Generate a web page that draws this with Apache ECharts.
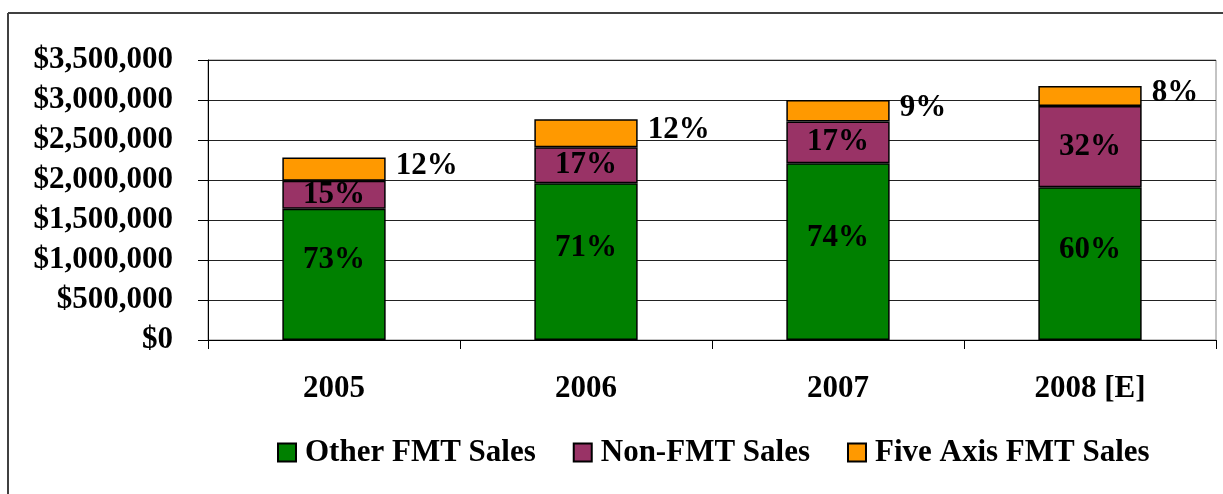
<!DOCTYPE html>
<html>
<head>
<meta charset="utf-8">
<script src="https://cdn.jsdelivr.net/npm/echarts@6/dist/echarts.min.js"></script>
<style>
  html, body { margin: 0; padding: 0; background: #fff; }
  #main { width: 1223px; height: 494px; }
</style>
</head>
<body>
<div id="main"></div>
<script>
// data
var years = ['2005', '2006', '2007', '2008 [E]'];
var otherFmt = [1640000, 1960000, 2210000, 1910000];
var nonFmt = [350000, 450000, 520000, 1015000];
var fiveAxis = [290000, 350000, 270000, 250000];
var otherPct = ['73%', '71%', '74%', '60%'];
var nonPct = ['15%', '17%', '17%', '32%'];
var fivePct = ['12%', '12%', '9%', '8%'];
var yTicks = [0, 3500000, 500000]; // min, max, step

var FONT = "'Liberation Serif', 'Times New Roman', serif";

function money(v) {
  return '$' + String(v).replace(/\B(?=(\d{3})+(?!\d))/g, ',');
}

var chart = echarts.init(document.getElementById('main'));

function barSeries(name, data, color, labels, labelPos) {
  return {
    name: name,
    type: 'bar',
    stack: 'sales',
    barWidth: '41%',
    data: data,
    itemStyle: { color: color, borderColor: '#000', borderWidth: 1.5 },
    label: {
      show: true,
      position: labelPos.position,
      offset: labelPos.offset,
      distance: labelPos.distance || 5,
      color: '#000',
      fontFamily: FONT,
      fontWeight: 'bold',
      fontSize: 31,
      formatter: function (p) { return labels[p.dataIndex]; }
    }
  };
}

var option = {
  animation: false,
  backgroundColor: '#fff',
  grid: {
    left: 208, right: 7, top: 60, bottom: 154,
    show: true, borderColor: '#888', borderWidth: 1
  },
  legend: {
    left: 277,
    top: 437,
    padding: 0,
    icon: 'rect',
    itemWidth: 18,
    itemHeight: 18,
    itemGap: 37,
    textStyle: {
      fontFamily: FONT, fontWeight: 'bold', fontSize: 31, color: '#000',
      padding: [0, 0, 0, 4]
    },
    data: ['Other FMT Sales', 'Non-FMT Sales', 'Five Axis FMT Sales']
  },
  xAxis: {
    type: 'category',
    data: years,
    axisLine: { lineStyle: { color: '#000', width: 1 } },
    axisTick: { show: true, length: 9, lineStyle: { color: '#000' } },
    axisLabel: {
      margin: 33,
      color: '#000',
      fontFamily: FONT,
      fontWeight: 'bold',
      fontSize: 31
    }
  },
  yAxis: {
    type: 'value',
    min: yTicks[0],
    max: yTicks[1],
    interval: yTicks[2],
    axisLine: { show: true, lineStyle: { color: '#000', width: 1 } },
    axisTick: { show: true, length: 10, lineStyle: { color: '#000' } },
    splitLine: { lineStyle: { color: '#222', width: 1 } },
    axisLabel: {
      margin: 35,
      color: '#000',
      fontFamily: FONT,
      fontWeight: 'bold',
      fontSize: 31,
      formatter: money
    }
  },
  graphic: [
    { type: 'line', shape: { x1: 8, y1: 13, x2: 1223, y2: 13 }, style: { stroke: '#404040', lineWidth: 2 } },
    { type: 'line', shape: { x1: 8, y1: 13, x2: 8, y2: 494 }, style: { stroke: '#404040', lineWidth: 2 } }
  ],
  series: [
    barSeries('Other FMT Sales', otherFmt, '#008000', otherPct, { position: 'inside', offset: [0, -14] }),
    barSeries('Non-FMT Sales', nonFmt, '#993366', nonPct, { position: 'inside', offset: [0, 0] }),
    barSeries('Five Axis FMT Sales', fiveAxis, '#FF9900', fivePct, { position: 'right', offset: [0, -3], distance: 10 })
  ]
};

chart.setOption(option);
</script>
</body>
</html>
